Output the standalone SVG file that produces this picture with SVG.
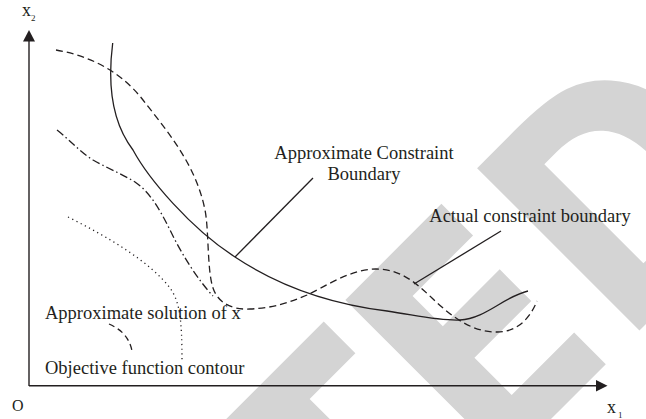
<svg xmlns="http://www.w3.org/2000/svg" width="646" height="419" viewBox="0 0 646 419">
<defs>
<style>
.lbl{font-family:"Liberation Serif","Times New Roman",serif;font-size:18.5px;fill:#231f20}
.ax{font-family:"Liberation Serif","Times New Roman",serif;font-size:18px;fill:#231f20}
.sub{font-family:"Liberation Serif","Times New Roman",serif;font-size:9px;fill:#231f20}
.crv{fill:none;stroke:#231f20;stroke-width:1.3}
.axis{fill:none;stroke:#231f20;stroke-width:1.4}
.head{fill:#231f20}
.wm{font-family:"DejaVu Sans",sans-serif;font-weight:bold;font-size:315px;fill:#d4d4d4}
</style>
</defs>
<rect width="646" height="419" fill="#fff"/>
<g id="watermark" transform="rotate(-45) scale(0.85,1)">
<text class="wm" x="-1601.3 -1358.7 -1143.7 -928.9 -686.3 -442.5 -211.3 8.9 228.1" y="685.9">RETRACTED</text>
</g>
<g id="axes">
<path class="axis" d="M29,386 V40"/>
<path class="axis" d="M29,385.7 H597"/>
<polygon class="head" points="29,30 23,41.5 35,41.5"/>
<polygon class="head" points="607.5,385.7 596,380 596,391.4"/>
<text class="ax" x="22" y="16">x</text><text class="sub" x="31" y="20.5">2</text>
<text class="ax" x="607" y="413">x</text><text class="sub" x="618" y="417.5">1</text>
<text class="ax" x="12" y="411" style="font-size:16px">O</text>
</g>
<g id="curves">
<path id="approx-boundary" class="crv" d="M112.7,43 C108,80 110,120 133,150 C148,178 190,228 235,257 C280,287 330,304 387,311 C420,316 440,321 460,320 C485,319 505,296 528,291"/>
<path id="actual-boundary" class="crv" stroke-dasharray="7,4" d="M56,50 C85,55 118,68 143,100 C168,132 196,165 205,210 C209,230 207,270 213,288 C218,303 232,310 250,309 C275,308 290,302 307,295 C325,287 350,269 376,269 C400,269 415,282 432,298 C450,315 470,332 497,332 C518,332 530,318 537,301"/>
<path id="dashdot-contour" class="crv" stroke-dasharray="8,3,1.5,3" d="M57,130 C70,140 80,152 93,160 C105,167 120,173 135,182 C150,192 160,210 170,230 C182,255 198,280 213,296"/>
<path id="objective-contour" class="crv" stroke-dasharray="1.2,3.5" d="M68,217 C110,238 150,262 170,288 C180,302 182,320 182,362"/>
<path id="solution-mark" class="crv" stroke-dasharray="6,4" d="M109,324 C120,329 129,336 132,351"/>
</g>
<g id="connectors">
<line class="crv" x1="313" y1="178" x2="235" y2="257"/>
<line class="crv" x1="501" y1="231" x2="414" y2="284"/>
</g>
<g id="label-approx-constraint">
<text class="lbl" x="364" y="159.3" text-anchor="middle">Approximate Constraint</text>
<text class="lbl" x="364" y="180" text-anchor="middle">Boundary</text>
</g>
<g id="label-actual-constraint">
<text class="lbl" x="429.3" y="221.7">Actual constraint boundary</text>
</g>
<g id="label-solution">
<text class="lbl" x="45" y="319.3">Approximate solution of x</text>
</g>
<g id="label-objective">
<text class="lbl" x="45" y="374.3">Objective function contour</text>
</g>
</svg>
